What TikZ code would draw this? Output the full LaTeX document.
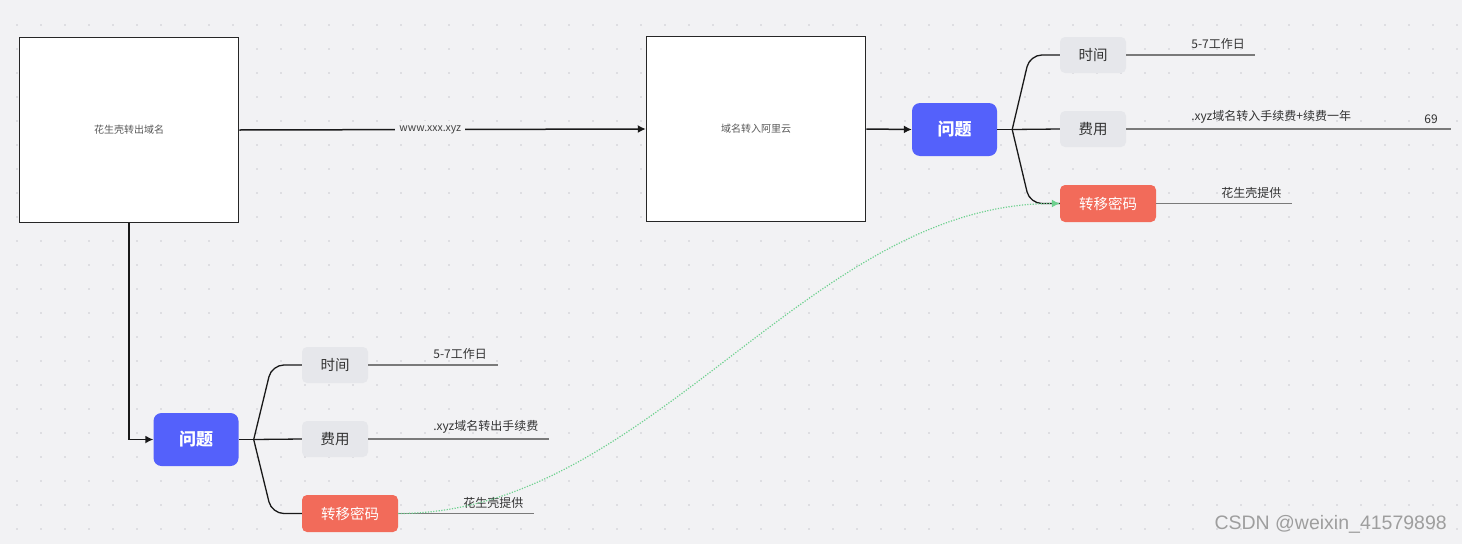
\documentclass[tikz,border=0pt]{standalone}
\usepackage{fontspec}
\setmainfont{Noto Sans CJK SC}
\newfontfamily\markfont{Liberation Sans}
\usetikzlibrary{arrows.meta,positioning,calc}
\definecolor{bgpaper}{HTML}{F2F2F4}
\definecolor{griddot}{HTML}{CBCBD0}
\definecolor{qblue}{HTML}{5461FB}
\definecolor{qred}{HTML}{F26B5A}
\definecolor{qgray}{HTML}{E6E7EB}
\definecolor{notegray}{HTML}{7A7A7A}
\definecolor{linkgreen}{HTML}{6ED18F}

\begin{document}
\begin{tikzpicture}[x=1pt, y=-1pt,
    page/.style={draw=black!85, line width=1.5pt, fill=white,
                 minimum width=219pt, minimum height=185pt, inner sep=0pt,
                 font=\fontsize{10}{12}\selectfont, text=black!65},
    topic/.style={fill=qblue, rounded corners=8pt, text=white,
                  minimum width=85pt, minimum height=53pt, inner sep=0pt,
                  font=\fontsize{17}{20}\selectfont\bfseries},
    item/.style={fill=qgray, rounded corners=5pt, text=black!80,
                 minimum width=66pt, minimum height=36pt, inner sep=0pt,
                 font=\fontsize{14.5}{17}\selectfont},
    keyitem/.style={item, fill=qred, text=white, minimum width=96pt, minimum height=37pt},
    branch/.style={draw=black!90, line width=1.3pt, rounded corners=12pt},
    noteline/.style={draw=notegray, line width=1.5pt},
    note/.style={font=\fontsize{12}{14}\selectfont, text=black!80, inner sep=1pt},
    flow/.style={draw=black!90, line width=1.5pt, -{Latex[length=8pt,width=8pt]}}
  ]
    % Paper and dot grid
    \useasboundingbox (0,0) rectangle (1462,544);
    \fill[bgpaper] (0,0) rectangle (1462,544);
    \foreach \gx in {0,...,60}
      \foreach \gy in {0,...,21}
        \fill[griddot] (17+24*\gx, 25+24*\gy) circle (0.9pt);

    % Two main steps
    \node[page] (out) at (129,130) {花生壳转出域名};
    \node[page] (in) at (756,129) {域名转入阿里云};
    \draw[flow] (out.east) -- node[fill=bgpaper, inner sep=4pt, text=black!75,
      font=\fontsize{10.5}{12}\selectfont, pos=0.47] (url) {www.xxx.xyz} (in.west);

    % Questions after transfer in
    \node[topic] (qin) at (954.5,129.5) {问题};
    \draw[flow] (in.east) -- (qin.west);
    \node[item] (timein) at (1093,55) {时间};
    \node[item] (feein) at (1093,129) {费用};
    \node[keyitem] (codein) at (1108,203.5) {转移密码};
    \draw[branch] (qin.east) -- ++(15,0) coordinate (forkin);
    \draw[branch] (forkin) -- ($(timein.west)+(-30,0)$) -- (timein.west);
    \draw[branch] (forkin) -- (feein.west);
    \draw[branch] (forkin) -- ($(codein.west)+(-30,0)$) -- (codein.west);

    \draw[noteline] (timein.east) -- ++(129,0);
    \node[note, anchor=south west] (timeinnote) at ($(timein.east)+(64,-4)$) {5-7工作日};
    \draw[noteline] (feein.east) -- ++(325,0);
    \node[note, anchor=south west] (feeinnote) at ($(feein.east)+(64,-4)$) {.xyz域名转入手续费+续费一年};
    \node[note, anchor=south] (feeinprice) at (1431,125) {69};
    \draw[noteline] (codein.east) -- ++(136,0);
    \node[note, anchor=south west] (codeinnote) at ($(codein.east)+(64,-4)$) {花生壳提供};

    % Questions after transfer out
    \node[topic] (qout) at (196,439.5) {问题};
    \draw[flow] (out.south) |- (qout.west);
    \node[item] (timeout) at (335,365) {时间};
    \node[item] (feeout) at (335,439) {费用};
    \node[keyitem] (codeout) at (350,513.5) {转移密码};
    \draw[branch] (qout.east) -- ++(15,0) coordinate (forkout);
    \draw[branch] (forkout) -- ($(timeout.west)+(-30,0)$) -- (timeout.west);
    \draw[branch] (forkout) -- (feeout.west);
    \draw[branch] (forkout) -- ($(codeout.west)+(-30,0)$) -- (codeout.west);

    \draw[noteline] (timeout.east) -- ++(130,0);
    \node[note, anchor=south west] (timeoutnote) at ($(timeout.east)+(64,-4)$) {5-7工作日};
    \draw[noteline] (feeout.east) -- ++(181,0);
    \node[note, anchor=south west] (feeoutnote) at ($(feeout.east)+(64,-4)$) {.xyz域名转出手续费};
    \draw[noteline] (codeout.east) -- ++(136,0);
    \node[note, anchor=south west] (codeoutnote) at ($(codeout.east)+(64,-4)$) {花生壳提供};

    % Same transfer code links both sides
    \draw[linkgreen, line width=1.2pt, dash pattern=on 1.2pt off 1.5pt,
          -{Latex[length=8pt,width=8pt]}]
      (codeout.east) .. controls ($(codeout.east)+(252,0)$) and ($(codein.west)+(-252,0)$) .. (codein.west);

    % Watermark
    \node[anchor=east, text=black!38, font=\markfont\fontsize{19.5}{22}\selectfont,
          inner sep=0pt] (mark) at (1447,524) {CSDN @weixin\_41579898};
\end{tikzpicture}
\end{document}
